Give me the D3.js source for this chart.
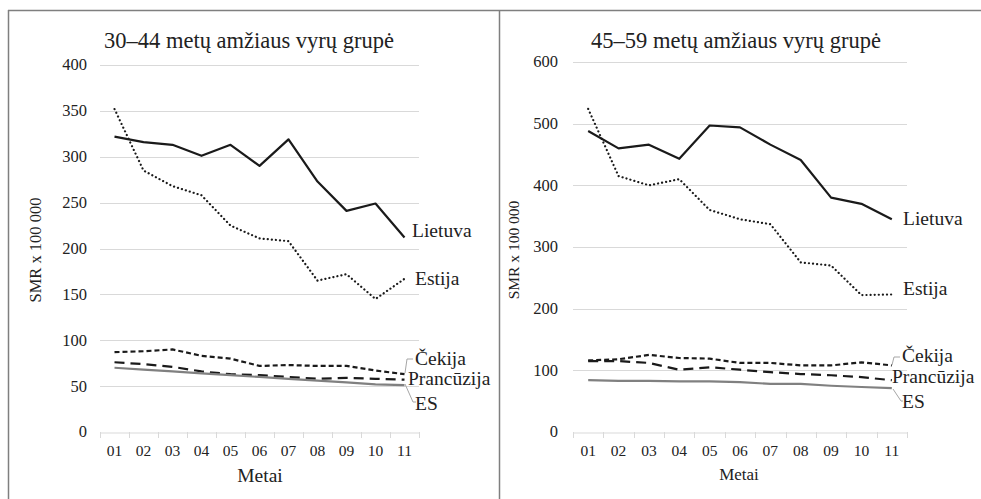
<!DOCTYPE html>
<html>
<head>
<meta charset="utf-8">
<script src="https://cdn.jsdelivr.net/npm/d3@7"></script>
</head>
<body style="margin:0; background:#fff">
<svg id="chart" width="981" height="499"></svg>
<script>
// years (shown as two digits)
var years = ["01", "02", "03", "04", "05", "06", "07", "08", "09", "10", "11"];

// 30-44 age group
var lt3044 = [322, 316, 313, 301, 313, 290, 319, 273, 241, 249, 212];
var ee3044 = [352, 285, 268, 258, 225, 211, 208, 165, 172, 145, 167];
var cz3044 = [87, 88, 90, 83, 80, 72, 73, 72, 72, 67, 63];
var fr3044 = [76, 74, 71, 66, 63, 62, 60, 58, 59, 58, 57];
var es3044 = [70, 68, 66, 64, 62, 60, 58, 56, 54, 52, 51];
var ticks3044 = [0, 50, 100, 150, 200, 250, 300, 350, 400];

// 45-59 age group
var lt4559 = [488, 460, 466, 443, 497, 494, 466, 441, 380, 370, 345];
var ee4559 = [524, 415, 400, 410, 360, 345, 337, 275, 270, 222, 223];
var cz4559 = [116, 118, 125, 120, 119, 112, 112, 108, 108, 113, 108];
var fr4559 = [115, 115, 112, 101, 105, 101, 97, 94, 92, 89, 84];
var es4559 = [84, 83, 83, 82, 82, 81, 78, 78, 75, 73, 71];
var ticks4559 = [0, 100, 200, 300, 400, 500, 600];

var seriesNames = ["Lietuva", "Estija", "Čekija", "Prancūzija", "ES"];

var FONT = "'Liberation Serif', 'Times New Roman', serif";
var svg = d3.select("#chart").style("font-family", FONT);

// panel frame
svg.append("line").attr("x1", 8).attr("x2", 981).attr("y1", 10.5).attr("y2", 10.5)
    .attr("stroke", "#7f7f7f").attr("stroke-width", 1.5);
svg.append("line").attr("x1", 8.5).attr("x2", 8.5).attr("y1", 10).attr("y2", 499)
    .attr("stroke", "#7f7f7f").attr("stroke-width", 1.5);
svg.append("line").attr("x1", 499.5).attr("x2", 499.5).attr("y1", 10).attr("y2", 499)
    .attr("stroke", "#7f7f7f").attr("stroke-width", 1.5);

var styles = {
    "Lietuva":    {stroke: "#1a1a1a", dash: null, cap: "butt"},
    "Estija":     {stroke: "#1a1a1a", dash: "0.1,4", cap: "round"},
    "Čekija":     {stroke: "#1a1a1a", dash: "5,3", cap: "butt"},
    "Prancūzija": {stroke: "#1a1a1a", dash: "10,6", cap: "butt"},
    "ES":         {stroke: "#808080", dash: null, cap: "butt"}
};

function txt(sel, size) {
    return sel.style("font-family", FONT).style("font-size", size).attr("fill", "#222");
}

function drawPanel(cfg) {
    var g = svg.append("g");
    var x = d3.scaleBand().domain(years).range([cfg.x0, cfg.x1]);
    var y = d3.scaleLinear().domain([0, cfg.max]).range([432, cfg.yTop]);

    // gridlines
    g.selectAll(".grid").data(cfg.ticks.slice(1)).enter().append("line")
        .attr("x1", cfg.x0).attr("x2", cfg.x1)
        .attr("y1", function(d) { return Math.round(y(d)) + 0.5; })
        .attr("y2", function(d) { return Math.round(y(d)) + 0.5; })
        .attr("stroke", "#d9d9d9").attr("stroke-width", 1);

    // y tick labels
    txt(g.selectAll(".yl").data(cfg.ticks).enter().append("text")
        .attr("x", cfg.x0 - cfg.tickGap).attr("y", function(d) { return y(d); })
        .attr("dy", "0.33em").attr("text-anchor", "end")
        .text(function(d) { return d; }), "16.5px");

    // x axis
    var xAxis = g.append("g").attr("transform", "translate(0,432.5)")
        .call(d3.axisBottom(x).tickSize(0).tickPadding(12));
    xAxis.attr("font-family", null);
    xAxis.select(".domain").attr("stroke", "#d9d9d9");
    txt(xAxis.selectAll("text"), "15.5px");
    // tick marks between categories
    var bounds = years.map(function(d) { return x(d); }).concat([cfg.x1]);
    g.selectAll(".xt").data(bounds).enter().append("line")
        .attr("x1", function(d) { return Math.round(d) + 0.5; })
        .attr("x2", function(d) { return Math.round(d) + 0.5; })
        .attr("y1", 432).attr("y2", 438)
        .attr("stroke", "#d9d9d9");

    var line = d3.line()
        .x(function(d, i) { return x(years[i]) + x.bandwidth() / 2; })
        .y(function(d) { return y(d); });

    cfg.series.forEach(function(vals, k) {
        var st = styles[seriesNames[k]];
        g.append("path").datum(vals)
            .attr("d", line)
            .attr("fill", "none")
            .attr("stroke", st.stroke)
            .attr("stroke-width", 2.2)
            .attr("stroke-linecap", st.cap)
            .attr("stroke-linejoin", "round")
            .attr("stroke-dasharray", st.dash);
    });

    // leader lines for labels
    cfg.leaders.forEach(function(l) {
        g.append("polyline")
            .attr("points", l.pts.map(function(p) { return p.join(","); }).join(" "))
            .attr("fill", "none").attr("stroke", "#a6a6a6").attr("stroke-width", 1);
    });

    // series labels (baseline positions)
    cfg.labels.forEach(function(l) {
        txt(g.append("text").attr("x", l.x).attr("y", l.y).text(l.name), "19.5px");
    });

    // title
    txt(g.append("text").attr("x", cfg.titleX).attr("y", 48)
        .attr("text-anchor", "middle").text(cfg.title), "22.5px");

    // axis titles
    txt(g.append("text")
        .attr("transform", "translate(" + cfg.yLabelX + ",250) rotate(-90)")
        .attr("text-anchor", "middle").attr("dy", "0.33em")
        .text("SMR x 100 000"), cfg.yLabelSize);
    txt(g.append("text").attr("x", cfg.metaiX).attr("y", cfg.metaiY)
        .attr("text-anchor", "middle").text("Metai"), cfg.metaiSize);
}

drawPanel({
    x0: 100, x1: 419, yTop: 65, max: 400, ticks: ticks3044, tickGap: 13,
    series: [lt3044, ee3044, cz3044, fr3044, es3044],
    title: "30–44 metų amžiaus vyrų grupė", titleX: 249,
    yLabelX: 36, yLabelSize: "16.5px",
    metaiX: 260, metaiY: 482, metaiSize: "19.5px",
    labels: [
        {name: "Lietuva", x: 412, y: 237},
        {name: "Estija", x: 415, y: 285},
        {name: "Čekija", x: 415, y: 365},
        {name: "Prancūzija", x: 408, y: 385},
        {name: "ES", x: 415, y: 410}
    ],
    leaders: [
        {pts: [[405, 373], [407, 359], [413, 359]]},
        {pts: [[405, 384], [413, 402], [416, 402]]}
    ]
});

drawPanel({
    x0: 573, x1: 907, yTop: 62, max: 600, ticks: ticks4559, tickGap: 15,
    series: [lt4559, ee4559, cz4559, fr4559, es4559],
    title: "45–59 metų amžiaus vyrų grupė", titleX: 736,
    yLabelX: 514, yLabelSize: "15.5px",
    metaiX: 739, metaiY: 480, metaiSize: "17px",
    labels: [
        {name: "Lietuva", x: 903, y: 225},
        {name: "Estija", x: 903, y: 295},
        {name: "Čekija", x: 902, y: 362},
        {name: "Prancūzija", x: 892, y: 383},
        {name: "ES", x: 902, y: 408}
    ],
    leaders: [
        {pts: [[892, 365], [894, 357], [900, 357]]},
        {pts: [[893, 389], [901, 401], [903, 401]]}
    ]
});
</script>
</body>
</html>
